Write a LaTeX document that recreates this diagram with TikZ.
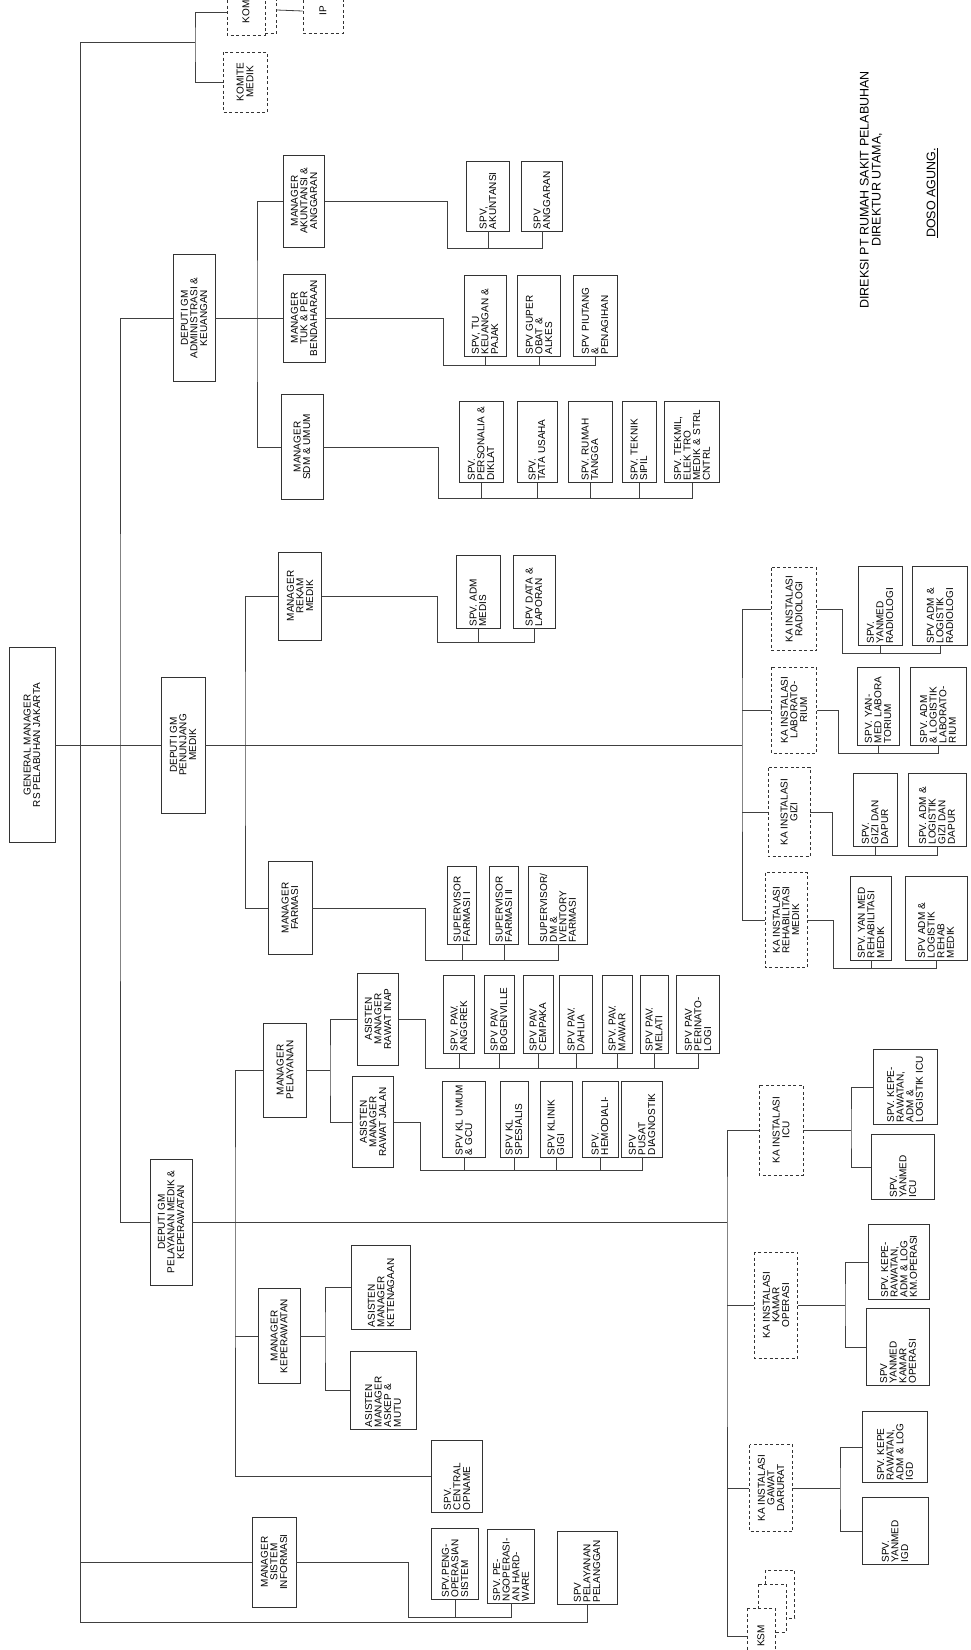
\documentclass[tikz,border=0pt]{standalone}
\usepackage{fontspec}
\setmainfont{Liberation Sans}
\usepackage{tikz}

\begin{document}
\begin{tikzpicture}[x=1pt,y=-1pt,
  box/.style={draw=black!80, line width=0.8pt, fill=white, rotate=90, align=center,
    inner sep=2pt, text=black, font=\fontsize{10}{9.6}\selectfont},
  dbox/.style={box, dashed, dash pattern=on 3pt off 2.5pt},
  sbox/.style={box, align=left, text width=#1},
  conn/.style={draw=black!75, line width=0.8pt},
  sign/.style={rotate=90, align=center, text=black, font=\fontsize{12.5}{12}\selectfont}]
\useasboundingbox (0,0) rectangle (971,1650);
\clip (0,0) rectangle (971,1650);

% top
\node[box, minimum width=195, minimum height=46] (gm) at (32,745) {GENERAL MANAGER\\RS PELABUHAN JAKARTA};
\node[box, minimum width=127, minimum height=42] (dadm) at (194,318) {DEPUTI GM\\ADMINISTRASI \&\\KEUANGAN};
\node[box, minimum width=136, minimum height=44] (dpen) at (183,745) {DEPUTI GM\\PENUNJANG\\MEDIK};
\node[box, minimum width=126, minimum height=42] (dpel) at (171,1222) {DEPUTI GM\\PELAYANAN MEDIK \&\\KEPERAWATAN};

% komite
\node[dbox, minimum width=60, minimum height=44] (komed) at (245,82) {KOMITE\\MEDIK};
\node[dbox, minimum width=46, minimum height=37] (komb) at (258,10) {};
\node[dbox, minimum width=46, minimum height=38] (kom) at (246,12) {KOM};
\node[dbox, minimum width=44, minimum height=40] (kip) at (323,11) {IP};

% administrasi & keuangan
\node[box, minimum width=92, minimum height=41] (makun) at (304,201) {MANAGER\\AKUNTANSI \&\\ANGGARAN};
\node[box, minimum width=88, minimum height=42] (mtuk) at (304,318) {MANAGER\\TUK \& PER\\BENDAHARAAN};
\node[box, minimum width=105, minimum height=42] (msdm) at (302,447) {MANAGER\\SDM \& UMUM};
\node[sbox=66, minimum height=43] (sakun) at (488,196) {SPV,\\AKUNTANSI};
\node[sbox=66, minimum height=41] (sangg) at (542,196) {SPV\\ANGGARAN};
\node[sbox=77, minimum height=42] (stu) at (485,316) {SPV, TU\\KEUANGAN \&\\PAJAK};
\node[sbox=77, minimum height=43] (sgup) at (539,316) {SPV GUPER\\OBAT \&\\ALKES};
\node[sbox=77, minimum height=44] (spiut) at (595,316) {SPV PIUTANG\\\&\\PENAGIHAN};
\node[sbox=77, minimum height=44] (sper) at (481,442) {SPV.\\PERSONALIA \&\\DIKLAT};
\node[sbox=77, minimum height=40] (stata) at (537,442) {SPV.\\TATA USAHA};
\node[sbox=77, minimum height=44] (srt) at (590,442) {SPV. RUMAH\\TANGGA};
\node[sbox=77, minimum height=34] (stek) at (639,442) {SPV. TEKNIK\\SIPIL};
\node[sbox=77, minimum height=55] (stml) at (692,442) {SPV. TEKMIL,\\ELEK TRO\\MEDIK \& STRL\\CNTRL};

% penunjang medik
\node[box, minimum width=88, minimum height=43] (mrm) at (300,596) {MANAGER\\REKAM\\MEDIK};
\node[box, minimum width=93, minimum height=44] (mfar) at (290,908) {MANAGER\\FARMASI};
\node[sbox=69, minimum height=44] (sadm) at (478,592) {SPV. ADM\\MEDIS};
\node[sbox=69, minimum height=42] (sdata) at (534,592) {SPV DATA \&\\LAPORAN};
\node[sbox=74, minimum height=29] (sf1) at (462,905) {SUPERVISOR\\FARMASI I};
\node[sbox=74, minimum height=29] (sf2) at (504,905) {SUPERVISOR\\FARMASI II};
\node[sbox=74, minimum height=59] (sf3) at (558,905) {SUPERVISOR/\\DM \&\\IVENTORY\\FARMASI};
\node[dbox, minimum width=83, minimum height=45] (krad) at (794,609) {KA INSTALASI\\RADIOLOGI};
\node[dbox, minimum width=86, minimum height=45] (klab) at (794,710) {KA INSTALASI\\LABORATO-\\RIUM};
\node[dbox, minimum width=89, minimum height=42] (kgizi) at (789,812) {KA INSTALASI\\GIZI};
\node[dbox, minimum width=95, minimum height=42] (kreh) at (786,920) {KA INSTALASI\\REHABILITASI\\MEDIK};
\node[sbox=75, minimum height=44] (syrad) at (880,606) {SPV.\\YANMED\\RADIOLOGI};
\node[sbox=75, minimum height=55] (sarad) at (940,606) {SPV ADM \&\\LOGISTIK\\RADIOLOGI};
\node[sbox=74, minimum height=42] (sylab) at (878,706) {SPV. YAN-\\MED LABORA\\TORIUM};
\node[sbox=74, minimum height=56] (salab) at (938,706) {SPV. ADM\\\& LOGISTIK\\LABORATO-\\RIUM};
\node[sbox=69, minimum height=44] (sygizi) at (875,810) {SPV.\\GIZI DAN\\DAPUR};
\node[sbox=69, minimum height=58] (sagizi) at (937,810) {SPV. ADM \&\\LOGISTIK\\GIZI DAN\\DAPUR};
\node[sbox=80, minimum height=41] (syreh) at (871,918) {SPV. YAN MED\\REHABILITASI\\MEDIK};
\node[sbox=80, minimum height=62] (sareh) at (936,918) {SPV ADM \&\\LOGISTIK\\REHAB\\MEDIK};

% pelayanan medik & keperawatan
\node[box, minimum width=94, minimum height=43] (mpel) at (285,1070) {MANAGER\\PELAYANAN};
\node[box, minimum width=95, minimum height=42] (mkep) at (279,1336) {MANAGER\\KEPERAWATAN};
\node[sbox=68, minimum height=51] (sco) at (457,1476) {SPV.\\CENTRAL\\OPNAME};
\node[box, minimum width=92, minimum height=41] (asin) at (378,1019) {ASISTEN\\MANAGER\\RAWAT INAP};
\node[box, minimum width=91, minimum height=41] (asjl) at (373,1122) {ASISTEN\\MANAGER\\RAWAT JALAN};
\node[sbox=74, minimum height=31] (pav1) at (459,1014) {SPV. PAV.\\ANGGREK};
\node[sbox=74, minimum height=30] (pav2) at (499,1014) {SPV PAV\\BOGENVILLE};
\node[sbox=74, minimum height=30] (pav3) at (538,1014) {SPV PAV\\CEMPAKA};
\node[sbox=74, minimum height=33] (pav4) at (576,1014) {SPV PAV.\\DAHLIA};
\node[sbox=74, minimum height=30] (pav5) at (617,1014) {SPV. PAV.\\MAWAR};
\node[sbox=74, minimum height=28] (pav6) at (654,1014) {SPV PAV.\\MELATI};
\node[sbox=74, minimum height=43] (pav7) at (698,1014) {SPV PAV\\PERINATO-\\LOGI};
\node[sbox=72, minimum height=43] (rj1) at (464,1119) {SPV KL UMUM\\\& GCU};
\node[sbox=72, minimum height=28] (rj2) at (514,1119) {SPV KL\\SPESIALIS};
\node[sbox=72, minimum height=32] (rj3) at (556,1119) {SPV KLINIK\\GIGI};
\node[sbox=72, minimum height=36] (rj4) at (600,1119) {SPV.\\HEMODIALI-};
\node[sbox=72, minimum height=41] (rj5) at (642,1119) {SPV\\PUSAT\\DIAGNOSTIK};
\node[sbox=80, minimum height=59] (asket) at (381,1287) {ASISTEN\\MANAGER\\KETENAGAAN};
\node[sbox=74, minimum height=66] (askep) at (383,1390) {ASISTEN\\MANAGER\\ASKEP \&\\MUTU};
\node[dbox, minimum width=90, minimum height=44] (kicu) at (781,1130) {KA INSTALASI\\ICU};
\node[dbox, minimum width=106, minimum height=43] (kok) at (776,1305) {KA INSTALASI\\KAMAR\\OPERASI};
\node[dbox, minimum width=87, minimum height=43] (kgd) at (771,1488) {KA INSTALASI\\GAWAT\\DARURAT};
\node[dbox, minimum width=48, minimum height=29] (ksmb) at (780,1594) {};
\node[dbox, minimum width=48, minimum height=28] (ksmm) at (772,1608) {};
\node[dbox, minimum width=56, minimum height=28] (ksm) at (761,1636) {KSM};
\node[sbox=71, minimum height=64] (sicu1) at (905,1087) {SPV. KEPE-\\RAWATAN,\\ADM \&\\LOGISTIK ICU};
\node[sbox=61, minimum height=63] (sicu2) at (903,1167) {SPV.\\YANMED\\ICU};
\node[sbox=71, minimum height=61] (sok1) at (899,1262) {SPV. KEPE-\\RAWATAN,\\ADM \& LOG\\KM.OPERASI};
\node[sbox=73, minimum height=63] (sok2) at (898,1347) {SPV\\YANMED\\KAMAR\\OPERASI};
\node[sbox=67, minimum height=65] (sgd1) at (895,1447) {SPV. KEPE\\RAWATAN,\\ADM \& LOG\\IGD};
\node[sbox=63, minimum height=66] (sgd2) at (895,1531) {SPV.\\YANMED\\IGD};

% sistem informasi
\node[box, minimum width=90, minimum height=44] (msi) at (274,1562) {MANAGER\\SISTEM\\INFORMASI};
\node[sbox=67, minimum height=47] (spop) at (455,1564) {SPV.PENG-\\OPERASIAN\\SISTEM};
\node[sbox=70, minimum height=47] (sphw) at (511,1566) {SPV. PE-\\NGOPERASI-\\AN HARD-\\WARE};
\node[sbox=69, minimum height=60] (spel) at (587,1568) {SPV\\PELAYANAN\\PELANGGAN};

% signature
\node[sign] (direksi) at (871,190) {DIREKSI PT RUMAH SAKIT PELABUHAN\\DIREKTUR UTAMA,};
\node[sign] (ttd) at (932,193) {\underline{DOSO AGUNG.}};

% junctions
\coordinate (jk) at (195,42);
\coordinate (v1top) at (80,42);
\coordinate (v1bot) at (80,1622);
\coordinate (jv2) at (120,745);
\coordinate (jv3) at (257,318);
\coordinate (bakun) at (447,248);
\coordinate (btuk) at (443,365);
\coordinate (bsdm) at (438,498);
\coordinate (jv4) at (245,745);
\coordinate (brm) at (437,642);
\coordinate (bfar) at (425,960);
\coordinate (jv5) at (742,745);
\coordinate (brad) at (842,653);
\coordinate (blab) at (838,753);
\coordinate (bgizi) at (832,855);
\coordinate (breh) at (833,968);
\coordinate (jv6) at (235,1222);
\coordinate (jpel) at (330,1070);
\coordinate (binap) at (425,1068);
\coordinate (bjal) at (420,1170);
\coordinate (jkep) at (325,1336);
\coordinate (jv7) at (727,1222);
\coordinate (jicu) at (851,1130);
\coordinate (jok) at (845,1305);
\coordinate (jgd) at (840,1488);
\coordinate (bsi) at (408,1617);

% connectors
\draw[conn] (kom.north) -| (jk) |- (komed.north);
\draw[conn] (komb.south) -- (kip.north);
\draw[conn] (jk) -- (v1top) -- (v1bot) -| (spel.west);
\draw[conn] (msi.north) -- (msi.north -| v1top);
\draw[conn] (gm.south) -- (dpen.north);
\draw[conn] (dadm.north) -| (jv2) |- (dpel.north);

\draw[conn] (dadm.south) -- (mtuk.north);
\draw[conn] (makun.north) -| (jv3) |- (msdm.north);
\draw[conn] (makun.south) -| (bakun) -| (sangg.west);
\draw[conn] (sakun.west) -- (sakun.west |- bakun);
\draw[conn] (mtuk.south) -| (btuk) -| (spiut.west);
\foreach \n in {stu,sgup} \draw[conn] (\n.west) -- (\n.west |- btuk);
\draw[conn] (msdm.south) -| (bsdm) -| (stml.west);
\foreach \n in {sper,stata,srt,stek} \draw[conn] (\n.west) -- (\n.west |- bsdm);

\draw[conn] (dpen.south) -- (jv5);
\draw[conn] (mrm.north) -| (jv4) |- (mfar.north);
\draw[conn] (mrm.south) -| (brm) -| (sdata.west);
\draw[conn] (sadm.west) -- (sadm.west |- brm);
\draw[conn] (mfar.south) -| (bfar) -| (sf3.west);
\foreach \n in {sf1,sf2} \draw[conn] (\n.west) -- (\n.west |- bfar);
\draw[conn] (krad.north) -| (jv5) |- (kreh.north);
\foreach \n in {klab,kgizi} \draw[conn] (\n.north) -- (\n.north -| jv5);
\draw[conn] (krad.south) -| (brad) -| (sarad.west);
\draw[conn] (syrad.west) -- (syrad.west |- brad);
\draw[conn] (klab.south) -| (blab) -| (salab.west);
\draw[conn] (sylab.west) -- (sylab.west |- blab);
\draw[conn] (kgizi.south) -| (bgizi) -| (sagizi.west);
\draw[conn] (sygizi.west) -- (sygizi.west |- bgizi);
\draw[conn] (kreh.south) -| (breh) -| (sareh.west);
\draw[conn] (syreh.west) -- (syreh.west |- breh);

\draw[conn] (dpel.south) -- (jv7);
\draw[conn] (mpel.north) -| (jv6) |- (sco.north);
\draw[conn] (mkep.north) -- (mkep.north -| jv6);
\draw[conn] (mpel.south) -- (jpel);
\draw[conn] (asin.north) -| (jpel) |- (asjl.north);
\draw[conn] (asin.south) -| (binap) -| (pav7.west);
\foreach \n in {pav1,pav2,pav3,pav4,pav5,pav6} \draw[conn] (\n.west) -- (\n.west |- binap);
\draw[conn] (asjl.south) -| (bjal) -| (rj5.west);
\foreach \n in {rj1,rj2,rj3,rj4} \draw[conn] (\n.west) -- (\n.west |- bjal);
\draw[conn] (mkep.south) -- (jkep);
\draw[conn] (asket.north) -| (jkep) |- (askep.north);
\draw[conn] (kicu.north) -| (jv7) |- (ksm.north);
\foreach \n in {kok,kgd} \draw[conn] (\n.north) -- (\n.north -| jv7);
\draw[conn] (kicu.south) -- (jicu);
\draw[conn] (sicu1.north) -| (jicu) |- (sicu2.north);
\draw[conn] (kok.south) -- (jok);
\draw[conn] (sok1.north) -| (jok) |- (sok2.north);
\draw[conn] (kgd.south) -- (jgd);
\draw[conn] (sgd1.north) -| (jgd) |- (sgd2.north);

\draw[conn] (msi.south) -| (bsi) -| (sphw.west);
\draw[conn] (spop.west) -- (spop.west |- bsi);
\end{tikzpicture}
\end{document}
